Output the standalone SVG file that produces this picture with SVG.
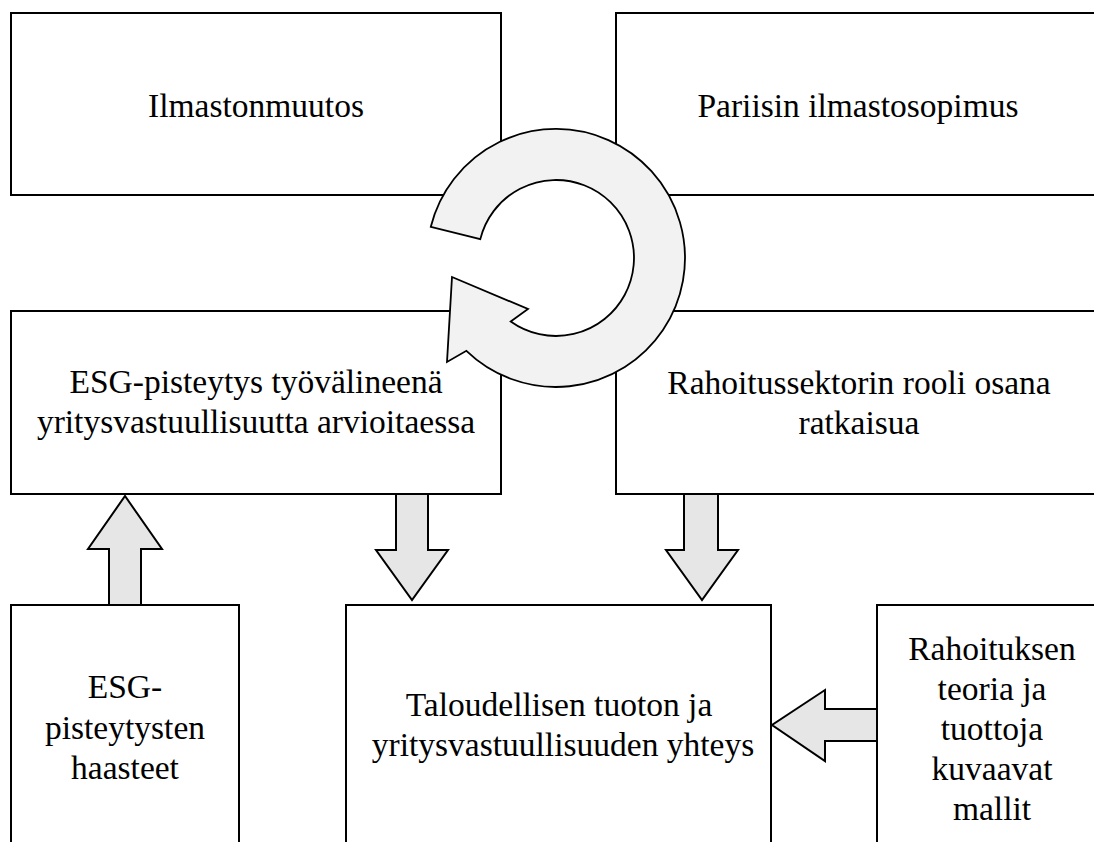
<svg xmlns="http://www.w3.org/2000/svg" width="1094" height="842" viewBox="0 0 1094 842">
<style>
.box{fill:#ffffff;stroke:#000000;stroke-width:2}
.arrow{fill:#e6e6e6;stroke:#000000;stroke-width:2;stroke-linejoin:miter}
.cycle{fill:#f2f2f2;stroke:#000000;stroke-width:1.8;stroke-linejoin:miter}
.t{font-family:'Liberation Serif','Tinos','Times New Roman',Times,'DejaVu Serif',serif;font-size:33.5px;fill:#000000;text-anchor:middle}
</style>
<rect width="1094" height="842" fill="#ffffff"/>
<g id="n-ilmastonmuutos">
<rect class="box" x="11" y="13" width="490" height="182"/>
<text class="t" x="256" y="117">Ilmastonmuutos</text>
</g>
<g id="n-pariisin">
<rect class="box" x="616" y="13" width="484" height="182"/>
<text class="t" x="858" y="117">Pariisin ilmastosopimus</text>
</g>
<g id="n-esg-pisteytys">
<rect class="box" x="11" y="311" width="490" height="183"/>
<text class="t" x="256" y="393">ESG-pisteytys työvälineenä</text>
<text class="t" x="256" y="433">yritysvastuullisuutta arvioitaessa</text>
</g>
<g id="n-rahoitussektori">
<rect class="box" x="616" y="311" width="484" height="183"/>
<text class="t" x="859" y="394">Rahoitussektorin rooli osana</text>
<text class="t" x="859" y="434">ratkaisua</text>
</g>
<g id="n-haasteet">
<rect class="box" x="11" y="605" width="228" height="260"/>
<text class="t" x="125" y="698">ESG-</text>
<text class="t" x="125" y="739">pisteytysten</text>
<text class="t" x="125" y="779">haasteet</text>
</g>
<g id="n-taloudellisen">
<rect class="box" x="346" y="605" width="425" height="260"/>
<text class="t" x="559" y="716">Taloudellisen tuoton ja</text>
<text class="t" x="563" y="756">yritysvastuullisuuden yhteys</text>
</g>
<g id="n-rahoituksen-teoria">
<rect class="box" x="877" y="605" width="230" height="260"/>
<text class="t" x="992" y="660">Rahoituksen</text>
<text class="t" x="992" y="700">teoria ja</text>
<text class="t" x="992" y="740">tuottoja</text>
<text class="t" x="992" y="780">kuvaavat</text>
<text class="t" x="992" y="820">mallit</text>
</g>
<g id="connectors">
<path class="cycle" d="M 430.8 226.8 A 129 129 0 1 1 466.4 350.8 L 447 362 L 452 277 L 528 309 L 510.7 321.5 A 78 78 0 1 0 480.3 239.1 Z"/>
<path class="arrow" d="M 396 494 L 428 494 L 428 550 L 448 550 L 412 600 L 376 550 L 396 550 Z"/>
<path class="arrow" d="M 684 494 L 718 494 L 718 550 L 738 550 L 702 600 L 666 550 L 684 550 Z"/>
<path class="arrow" d="M 109 605 L 141 605 L 141 549 L 162 549 L 125 496 L 88 549 L 109 549 Z"/>
<path class="arrow" d="M 877 709 L 877 741 L 825 741 L 825 761 L 772 725 L 825 690 L 825 709 Z"/>
</g>
</svg>
